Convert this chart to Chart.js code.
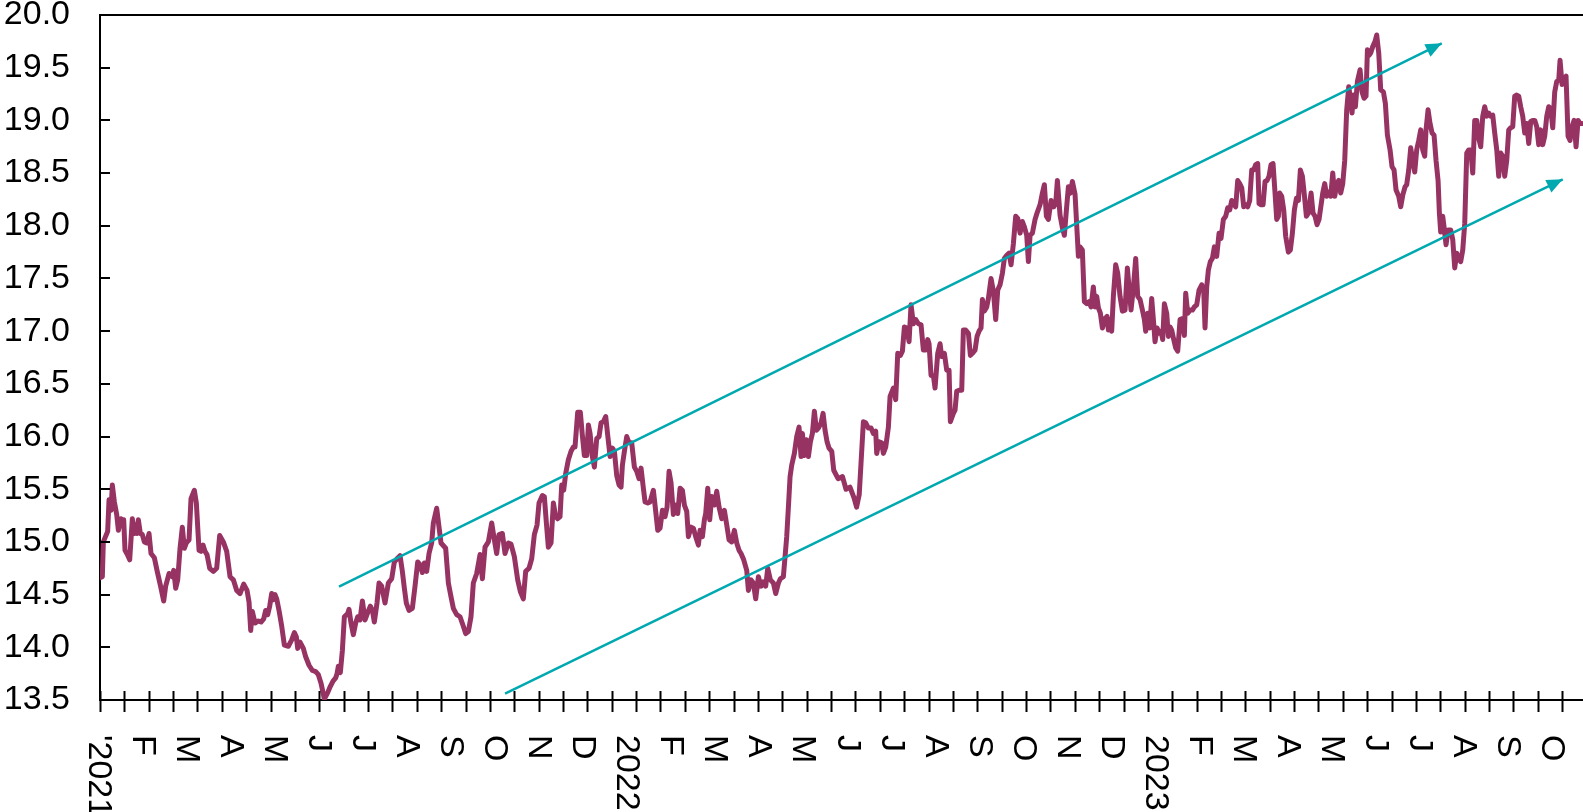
<!DOCTYPE html>
<html>
<head>
<meta charset="utf-8">
<script src="https://cdn.jsdelivr.net/npm/chart.js@4.4.1/dist/chart.umd.min.js"></script>
<style>
html,body{margin:0;padding:0;background:#fff;}
canvas{display:block;}
</style>
</head>
<body>
<canvas id="c" width="1583" height="812"></canvas>
<script>
// x positions: months elapsed since 1 Jan 2021 (fractional)
const xMonths = [
0.045,0.098,0.121,0.219,0.250,0.295,0.325,0.371,0.424,0.462,0.522,0.552,0.583,0.613,0.666,0.719,0.779,0.825,0.855,0.885,0.916,0.961,1.006,1.052,1.105,1.158,1.203,1.279,1.339,1.415,1.491,1.536,1.612,1.687,1.718,1.763,1.809,1.862,1.914,1.960,2.005,2.066,2.111,2.187,2.232,2.293,2.338,2.384,2.429,2.474,2.535,2.618,2.694,2.762,2.845,2.921,2.997,3.072,3.148,3.224,3.307,3.383,3.428,3.466,3.504,3.564,3.640,3.700,3.761,3.806,3.852,3.897,3.942,3.973,4.018,4.056,4.109,4.170,4.230,4.321,4.397,4.457,4.502,4.533,4.586,4.661,4.714,4.790,4.866,4.941,5.002,5.062,5.138,5.214,5.274,5.335,5.395,5.426,5.456,5.501,5.547,5.592,
5.668,5.698,5.743,5.796,5.849,5.895,5.948,6.001,6.061,6.122,6.182,6.228,6.273,6.333,6.379,6.439,6.515,6.591,6.666,6.727,6.787,6.856,6.909,6.954,6.999,7.060,7.136,7.196,7.257,7.317,7.363,7.408,7.461,7.514,7.574,7.612,7.688,7.741,7.786,7.892,7.953,8.013,8.066,8.142,8.218,8.293,8.346,8.407,8.467,8.520,8.596,8.672,8.725,8.785,8.861,8.937,8.997,9.050,9.103,9.179,9.239,9.315,9.375,9.451,9.527,9.587,9.655,9.708,9.784,9.845,9.905,9.966,10.011,10.087,10.132,10.178,10.223,10.284,10.337,10.389,10.435,10.488,10.526,10.571,10.617,10.677,10.738,10.791,10.828,10.889,10.949,10.995,11.040,
11.094,11.132,11.170,11.222,11.268,11.321,11.374,11.419,11.472,11.525,11.571,11.624,11.677,11.722,11.775,11.828,11.873,11.904,11.949,12.002,12.055,12.115,12.176,12.229,12.282,12.327,12.380,12.418,12.479,12.532,12.607,12.660,12.706,12.759,12.812,12.872,12.918,12.963,13.008,13.061,13.114,13.160,13.213,13.266,13.311,13.364,13.402,13.462,13.515,13.568,13.629,13.667,13.720,13.765,13.795,13.841,13.886,13.932,13.992,14.045,14.098,14.159,14.219,14.265,14.325,14.386,14.446,14.499,14.552,14.597,14.658,14.726,14.764,14.824,14.877,14.930,14.991,15.052,15.104,15.157,15.203,15.263,15.331,15.384,15.445,15.490,15.558,15.596,15.634,15.672,15.710,15.748,15.808,15.861,15.914,15.959,15.990,16.035,16.081,16.126,16.171,16.217,16.262,16.308,16.353,16.414,16.459,16.504,16.550,16.595,16.656,16.701,
16.80,16.90,16.98,17.07,17.16,17.22,17.28,17.321,
17.374,17.427,17.488,17.548,17.601,17.654,17.677,17.730,17.790,17.828,17.881,17.942,17.980,18.055,18.108,18.154,18.214,18.260,18.305,18.358,18.411,18.456,18.509,18.562,18.623,18.683,18.736,18.789,18.835,18.865,18.910,18.963,19.001,19.062,19.115,19.152,19.213,19.266,19.319,19.349,19.417,19.455,19.493,19.546,19.607,19.644,19.697,19.758,19.803,19.849,19.909,19.955,20.000,20.045,20.076,20.121,20.174,20.212,20.272,20.325,20.378,20.424,20.477,20.530,20.575,20.628,20.681,20.727,20.779,20.832,20.878,20.931,20.984,21.029,21.082,21.120,21.158,21.211,21.271,21.324,21.385,21.438,21.483,21.529,21.574,21.635,21.695,21.740,21.778,21.839,21.892,21.937,21.983,22.028,22.074,22.119,22.179,
22.255,22.293,22.345,22.391,22.444,22.497,22.542,22.595,22.633,22.671,22.709,22.754,22.800,22.860,22.905,22.936,22.974,23.011,23.049,23.102,23.148,23.201,23.254,23.314,23.367,23.412,23.450,23.503,23.556,23.602,23.655,23.708,23.753,23.783,23.829,23.874,23.919,23.965,23.995,24.041,24.086,24.131,24.169,24.207,24.260,24.298,24.336,24.373,24.419,24.464,24.510,24.563,24.616,24.661,24.691,24.737,24.790,24.843,24.888,24.941,24.994,25.055,25.100,25.130,25.168,25.206,25.251,25.297,25.342,25.395,25.448,25.493,25.546,25.599,25.645,25.690,25.736,25.781,25.826,25.872,25.917,25.963,26.008,26.053,26.099,26.144,26.190,26.235,26.280,26.326,26.356,26.401,26.447,26.492,26.538,26.583,26.628,26.674,26.719,26.757,26.795,26.825,26.871,26.916,26.961,27.022,27.067,27.113,27.158,27.204,27.249,27.294,27.340,27.385,27.431,27.476,27.537,27.582,27.627,27.673,27.718,
27.802,27.847,27.892,27.938,27.983,28.029,28.074,28.119,28.165,28.210,28.256,28.301,28.346,28.392,28.437,28.467,28.498,28.543,28.589,28.649,28.694,28.740,28.785,28.816,28.861,28.891,28.937,28.990,29.027,29.073,29.118,29.179,29.224,29.270,29.330,29.375,29.421,29.466,29.527,29.572,29.618,29.671,29.708,29.754,29.799,29.845,29.890,29.935,29.981,30.026,30.072,30.117,30.147,30.193,30.238,30.284,30.329,30.374,30.420,30.450,30.480,30.526,30.556,30.601,30.647,30.707,30.753,30.798,30.844,30.889,30.934,30.980,31.025,31.071,31.116,31.161,31.207,31.252,31.298,31.343,31.388,31.434,31.479,31.525,31.570,31.615,31.661,31.706,31.752,31.797,31.842,31.888,31.933,31.979,32.024,32.069,32.115,32.160,32.206,32.251,32.296,32.342,32.387,32.433,32.478,32.523,32.569,32.614,32.660,32.705,32.750,32.796,32.841,32.887,32.932,32.977,33.023,33.068,33.114,33.159,33.189,33.235,33.280,33.325,33.371,33.416,33.462,33.507,33.552,33.598,33.643,33.689
];
const seriesValues = [
14.66,14.67,15.00,15.10,15.40,15.30,15.54,15.38,15.26,15.11,15.22,15.16,15.21,14.92,14.88,14.83,15.22,15.08,15.16,15.08,15.21,15.08,15.07,15.00,14.99,15.08,14.89,14.85,14.73,14.59,14.44,14.58,14.70,14.67,14.73,14.56,14.64,14.94,15.14,14.94,14.99,15.02,15.41,15.49,15.37,14.92,14.91,14.97,14.91,14.88,14.75,14.72,14.75,15.06,15.00,14.91,14.67,14.64,14.54,14.51,14.60,14.54,14.43,14.16,14.34,14.23,14.25,14.24,14.27,14.35,14.31,14.39,14.51,14.45,14.50,14.46,14.35,14.20,14.02,14.01,14.07,14.14,14.10,13.99,14.05,13.99,13.91,13.83,13.78,13.77,13.74,13.66,13.51,13.57,13.63,13.68,13.71,13.75,13.82,13.76,13.97,14.29,
14.32,14.36,14.23,14.12,14.23,14.29,14.26,14.44,14.26,14.33,14.39,14.35,14.24,14.42,14.61,14.58,14.42,14.61,14.65,14.81,14.84,14.87,14.72,14.56,14.42,14.35,14.37,14.58,14.81,14.78,14.71,14.80,14.72,14.89,14.99,15.18,15.32,15.14,14.99,14.94,14.61,14.48,14.37,14.31,14.29,14.20,14.13,14.15,14.29,14.61,14.70,14.88,14.65,14.95,15.00,15.18,15.02,14.89,15.07,15.08,14.89,14.99,14.98,14.86,14.64,14.53,14.46,14.72,14.75,14.84,15.07,15.16,15.37,15.44,15.43,15.18,14.95,14.99,15.37,15.24,15.22,15.24,15.54,15.49,15.65,15.78,15.86,15.90,15.90,16.23,16.23,16.01,15.82,
15.82,16.11,16.03,15.81,15.71,15.98,16.00,16.13,16.14,16.19,16.01,15.81,15.89,15.86,15.63,15.54,15.52,15.73,15.86,16.00,15.94,15.94,15.71,15.67,15.60,15.70,15.51,15.38,15.37,15.38,15.49,15.29,15.11,15.13,15.30,15.24,15.33,15.67,15.56,15.26,15.35,15.27,15.51,15.49,15.35,15.29,15.05,15.14,15.13,15.05,14.97,15.11,15.05,15.21,15.27,15.51,15.21,15.43,15.35,15.48,15.33,15.22,15.30,15.18,15.02,15.00,15.11,14.99,14.92,14.89,14.83,14.73,14.54,14.64,14.61,14.46,14.67,14.58,14.62,14.58,14.75,14.64,14.61,14.51,14.61,14.65,14.67,14.86,15.05,15.33,15.62,15.73,15.84,16.00,16.09,15.81,16.03,15.82,15.97,15.81,15.95,16.03,16.24,16.06,16.08,16.13,16.22,16.06,15.95,15.89,15.86,15.68,
15.60,15.62,15.50,15.52,15.42,15.33,15.45,15.75,
16.14,16.13,16.08,16.08,16.03,16.05,15.84,15.95,15.94,15.84,15.90,16.09,16.38,16.46,16.35,16.79,16.77,16.81,17.04,17.03,16.90,17.25,17.07,17.11,17.07,17.06,16.82,16.82,16.92,16.88,16.58,16.58,16.46,16.79,16.88,16.76,16.79,16.63,16.63,16.14,16.22,16.25,16.43,16.44,16.44,17.01,17.01,16.98,16.77,16.79,16.82,16.95,17.00,17.03,17.30,17.19,17.23,17.31,17.50,17.38,17.11,17.39,17.44,17.55,17.69,17.72,17.74,17.63,17.83,18.09,18.07,17.93,18.04,17.99,17.91,17.66,17.91,17.93,18.06,18.13,18.20,18.31,18.39,18.09,18.06,18.24,18.18,18.21,18.43,18.10,17.98,17.91,18.15,18.37,18.31,18.42,18.30,
17.71,17.80,17.77,17.28,17.26,17.28,17.23,17.42,17.23,17.33,17.22,17.17,17.03,17.12,17.14,17.01,17.11,17.00,17.33,17.63,17.55,17.33,17.19,17.20,17.60,17.38,17.20,17.41,17.69,17.33,17.30,17.20,17.11,17.00,17.17,17.03,17.31,17.07,16.90,17.03,16.98,17.00,16.92,17.26,17.17,16.95,17.04,17.01,16.92,16.84,16.81,17.11,17.12,16.96,17.36,17.17,17.20,17.20,17.23,17.25,17.39,17.44,17.39,17.03,17.42,17.58,17.66,17.69,17.80,17.71,17.93,17.88,18.06,18.09,18.17,18.15,18.24,18.21,18.18,18.43,18.40,18.36,18.18,18.20,18.18,18.24,18.53,18.53,18.58,18.59,18.21,18.20,18.20,18.42,18.43,18.47,18.58,18.59,18.31,18.06,18.09,18.31,18.28,18.15,17.90,17.75,17.77,17.93,18.15,18.26,18.24,18.53,18.47,18.29,18.09,18.12,18.31,18.12,18.09,18.01,18.06,
18.31,18.40,18.28,18.32,18.28,18.50,18.28,18.39,18.43,18.31,18.40,18.62,19.10,19.32,19.19,19.07,19.24,19.13,19.37,19.48,19.27,19.21,19.23,19.67,19.62,19.64,19.70,19.75,19.81,19.64,19.29,19.27,19.16,18.86,18.72,18.56,18.53,18.34,18.28,18.18,18.29,18.37,18.39,18.53,18.74,18.62,18.51,18.72,18.81,18.91,18.72,18.66,18.91,19.10,18.97,18.88,18.86,18.62,18.43,18.12,17.94,18.09,17.99,17.82,17.96,17.96,17.87,17.60,17.74,17.69,17.66,17.77,18.02,18.69,18.72,18.72,18.50,19.00,19.00,18.83,18.75,19.04,19.13,19.04,19.07,19.04,19.05,18.88,18.72,18.47,18.69,18.66,18.47,18.62,18.91,18.93,18.94,19.23,19.24,19.23,19.13,19.04,18.88,18.97,18.78,18.99,19.00,19.00,18.94,18.77,18.91,18.77,18.85,19.04,19.13,19.11,18.93,19.27,19.37,19.38,19.57,19.34,19.40,19.42,18.85,18.81,18.94,19.00,18.75,19.00,18.97,18.97
];
// trend channel arrows (start, tip), x in months since Jan 2021
const upperArrowX = [5.471, 30.504];
const upperArrowY = [14.575, 19.731];
const lowerArrowX = [9.24, 33.25];
const lowerArrowY = [13.56, 18.441];
// month tick labels, one per month starting Jan 2021
const monthLabels = ["'2021","F","M","A","M","J","J","A","S","O","N","D",
  "2022","F","M","A","M","J","J","A","S","O","N","D",
  "2023","F","M","A","M","J","J","A","S","O"];
const yTickValues = [13.5,14.0,14.5,15.0,15.5,16.0,16.5,17.0,17.5,18.0,18.5,19.0,19.5,20.0];

const X_MIN = 0.045, X_MAX = 33.71;
const TICK_STEP = 0.5532; // minor tick mark interval (12 trading days) in months
const FONT = "'Liberation Sans', Arial, Helvetica, sans-serif";
const PURPLE = '#973363';
const TEAL = '#00A8B0';

const mainData = xMonths.map((x, i) => ({x: x, y: seriesValues[i]}));
const upData = upperArrowX.map((x, i) => ({x: x, y: upperArrowY[i]}));
const lowData = lowerArrowX.map((x, i) => ({x: x, y: lowerArrowY[i]}));

const decorPlugin = {
  id: 'decor',
  afterDatasetsDraw(chart) {
    const ctx = chart.ctx;
    chart.data.datasets.forEach((ds, di) => {
      if (!ds.arrow) return;
      const pts = chart.getDatasetMeta(di).data;
      const a = pts[pts.length - 2], b = pts[pts.length - 1];
      const ang = Math.atan2(b.y - a.y, b.x - a.x);
      const L = 16, W = 7;
      ctx.save();
      ctx.fillStyle = ds.borderColor;
      ctx.beginPath();
      ctx.moveTo(b.x, b.y);
      ctx.lineTo(b.x - L * Math.cos(ang) + W * Math.sin(ang), b.y - L * Math.sin(ang) - W * Math.cos(ang));
      ctx.lineTo(b.x - L * Math.cos(ang) - W * Math.sin(ang), b.y - L * Math.sin(ang) + W * Math.cos(ang));
      ctx.closePath();
      ctx.fill();
      ctx.restore();
    });
  },
  afterDraw(chart) {
    const ctx = chart.ctx;
    const area = chart.chartArea;
    const xs = chart.scales.x, ys = chart.scales.y;
    ctx.save();
    ctx.strokeStyle = '#000';
    ctx.lineWidth = 2;
    // top frame line
    ctx.beginPath();
    ctx.moveTo(area.left, area.top);
    ctx.lineTo(area.right, area.top);
    ctx.stroke();
    // y ticks pointing inward
    yTickValues.forEach(v => {
      const py = Math.round(ys.getPixelForValue(v));
      ctx.beginPath();
      ctx.moveTo(area.left, py);
      ctx.lineTo(area.left + 10, py);
      ctx.stroke();
    });
    // x tick marks crossing the axis
    for (let k = 0; ; k++) {
      const v = X_MIN + k * TICK_STEP;
      if (v > X_MAX) break;
      const px = Math.round(xs.getPixelForValue(v)) + 0.5;
      ctx.beginPath();
      ctx.moveTo(px, area.bottom - 9);
      ctx.lineTo(px, area.bottom + 12);
      ctx.stroke();
    }
    // rotated month labels
    ctx.fillStyle = '#000';
    ctx.font = '34px ' + FONT;
    ctx.textAlign = 'left';
    ctx.textBaseline = 'middle';
    monthLabels.forEach((lab, i) => {
      const px = xs.getPixelForValue(i);
      ctx.save();
      ctx.translate(px, area.bottom + 35);
      ctx.rotate(Math.PI / 2);
      ctx.fillText(lab, 0, 0);
      ctx.restore();
    });
    ctx.restore();
  }
};

new Chart(document.getElementById('c'), {
  type: 'line',
  data: {
    datasets: [
      {data: upData, borderColor: TEAL, borderWidth: 2.5, pointRadius: 0, arrow: true, order: 0, borderCapStyle: 'butt'},
      {data: lowData, borderColor: TEAL, borderWidth: 2.5, pointRadius: 0, arrow: true, order: 0, borderCapStyle: 'butt'},
      {data: mainData, borderColor: PURPLE, borderWidth: 5, pointRadius: 0, tension: 0, order: 1,
       borderJoinStyle: 'round', borderCapStyle: 'round'}
    ]
  },
  options: {
    responsive: false,
    devicePixelRatio: 1,
    animation: false,
    events: [],
    layout: {padding: {top: 15, left: 0, right: 0, bottom: 0}},
    plugins: {legend: {display: false}, tooltip: {enabled: false}, title: {display: false}},
    scales: {
      x: {
        type: 'linear', min: X_MIN, max: X_MAX,
        ticks: {display: false},
        grid: {display: false, drawTicks: false},
        border: {display: true, color: '#000', width: 2},
        afterFit(s) { s.height = 112; s.paddingLeft = 0; s.paddingRight = 0; }
      },
      y: {
        type: 'linear', min: 13.5, max: 20,
        ticks: {stepSize: 0.5, color: '#000', padding: 30,
          font: {family: FONT, size: 34},
          callback: v => Number(v).toFixed(1)},
        grid: {display: false, drawTicks: false},
        border: {display: true, color: '#000', width: 2},
        afterFit(s) { s.width = 100; s.paddingTop = 0; s.paddingBottom = 0; }
      }
    }
  },
  plugins: [decorPlugin]
});
</script>
</body>
</html>
